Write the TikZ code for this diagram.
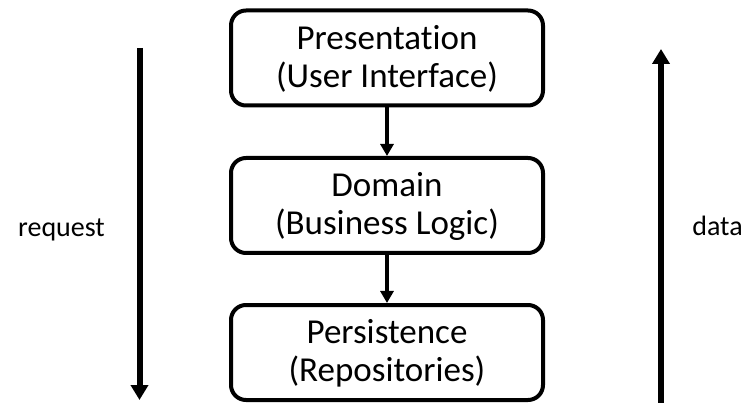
\documentclass[tikz,border=0pt]{standalone}
\usepackage{fontspec}
\setmainfont[Ligatures=NoCommon]{Carlito}
\usetikzlibrary{arrows.meta}

\begin{document}
\begin{tikzpicture}[x=1pt, y=-1pt,
  layer/.style={draw, line width=4pt, rounded corners=15pt,
    minimum width=312pt, minimum height=95pt, inner sep=0pt,
    align=center, font=\fontsize{35}{38}\selectfont},
  link/.style={line width=4pt, -{Triangle[width=13pt, length=12pt]}},
  flow/.style={line width=6pt, -{Triangle[width=17pt, length=15pt]}},
  side/.style={font=\fontsize{28}{32}\selectfont, anchor=base}]
  \useasboundingbox (0,0) rectangle (752,403);

  % the three layers
  \node[layer] (pres) at (387,58)    {\strut Presentation\\(User Interface)};
  \node[layer] (dom)  at (387,205.5) {\strut Domain\\(Business Logic)};
  \node[layer] (pers) at (387,352.5) {\strut Persistence\\(Repositories)};

  \draw[link] (pres) -- (dom);
  \draw[link] (dom) -- (pers);

  % request goes down, data comes back up
  \coordinate (reqTop) at (139.5,48);
  \coordinate (reqEnd) at (139.5,400);
  \coordinate (dataStart) at (661,405);
  \coordinate (dataTop) at (661,49);
  \draw[flow] (reqTop) -- (reqEnd);
  \draw[flow] (dataStart) -- (dataTop);

  \node[side] (req)  at (61.5,237) {request};
  \node[side] (data) at (717.5,236) {data};
\end{tikzpicture}
\end{document}
